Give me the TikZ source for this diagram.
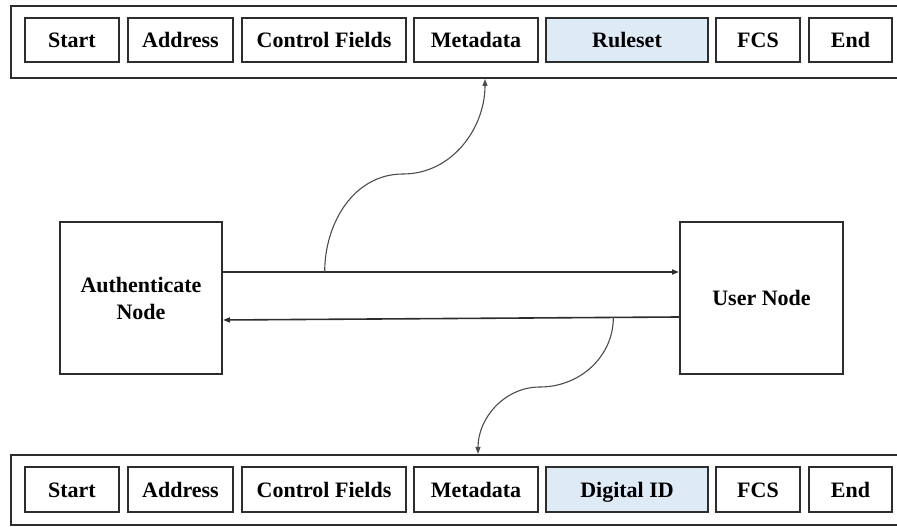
\documentclass[tikz,border=0pt]{standalone}
\usepackage{fontspec}
\setmainfont{Liberation Serif}
\usepackage{xcolor}
\usetikzlibrary{arrows.meta,positioning,calc}

\definecolor{idblue}{RGB}{222,235,247}
\definecolor{ink}{RGB}{45,45,45}

\begin{document}
\begin{tikzpicture}[x=1pt,y=1pt,
  every node/.style={font=\fontsize{22}{27}\selectfont\bfseries,text=black},
  frame/.style={draw=ink,line width=2pt,inner sep=0pt},
  field/.style={draw=ink,line width=2.2pt,inner sep=0pt,minimum height=44pt,text height=17pt,text depth=1.5pt},
  hl/.style={field,fill=idblue},
  party/.style={draw=ink,line width=2pt,inner sep=2pt,minimum width=162pt,minimum height=152pt,align=center},
  e/.style={-{Triangle[length=7pt,width=5pt]},line width=1.6pt,draw=ink},
  link/.style={-{Triangle[length=7pt,width=5pt]},line width=1.1pt,draw=ink!85}]
 \useasboundingbox (0,0) rectangle (897,527);
 \clip (0,0) rectangle (897,527);

 % frame sent towards the user node
 \node[frame,minimum width=894pt,minimum height=72pt] (ftop) at (458,485) {};
 \node[field,minimum width=94pt] (s1) at (72,487) {Start};
 \node[field,minimum width=105pt] (a1) at (180.5,487) {Address};
 \node[field,minimum width=164pt] (c1) at (324,487) {Control Fields};
 \node[field,minimum width=124pt] (m1) at (476,487) {Metadata};
 \node[hl,minimum width=162pt] (r1) at (627,487) {Ruleset};
 \node[field,minimum width=84pt] (f1) at (758,487) {FCS};
 \node[field,minimum width=83pt] (x1) at (850.5,487) {End};

 % frame sent back to the authenticator
 \node[frame,minimum width=894pt,minimum height=70pt] (fbot) at (458,37) {};
 \node[field,minimum width=94pt,minimum height=45pt] (s2) at (72,37.5) {Start};
 \node[field,minimum width=105pt,minimum height=45pt] (a2) at (180.5,37.5) {Address};
 \node[field,minimum width=164pt,minimum height=45pt] (c2) at (324,37.5) {Control Fields};
 \node[field,minimum width=124pt,minimum height=45pt] (m2) at (476,37.5) {Metadata};
 \node[hl,minimum width=162pt,minimum height=45pt] (d2) at (627,37.5) {Digital ID};
 \node[field,minimum width=84pt,minimum height=45pt] (f2) at (758,37.5) {FCS};
 \node[field,minimum width=83pt,minimum height=45pt] (x2) at (850.5,37.5) {End};

 % the two parties
 \node[party] (auth) at (141,229) {Authenticate\\Node};
 \node[party,minimum width=163pt] (user) at (761.5,229) {User Node};

 \draw[e] ([yshift=26pt]auth.east) -- coordinate[pos=0.223] (q1) ([yshift=26pt]user.west);
 \draw[e] ([yshift=-19pt]user.west) -- coordinate[pos=0.144] (q2) ([yshift=-22pt]auth.east);

 \coordinate (k1) at (403,353);
 \coordinate (k2) at (540,140);
 \draw[link] (q1) to[out=90,in=180] (k1) to[out=0,in=-90] ([xshift=27pt]ftop.south);
 \draw[link] (q2) to[out=-90,in=0] (k2) to[out=180,in=90] ([xshift=20pt]fbot.north);
\end{tikzpicture}
\end{document}
